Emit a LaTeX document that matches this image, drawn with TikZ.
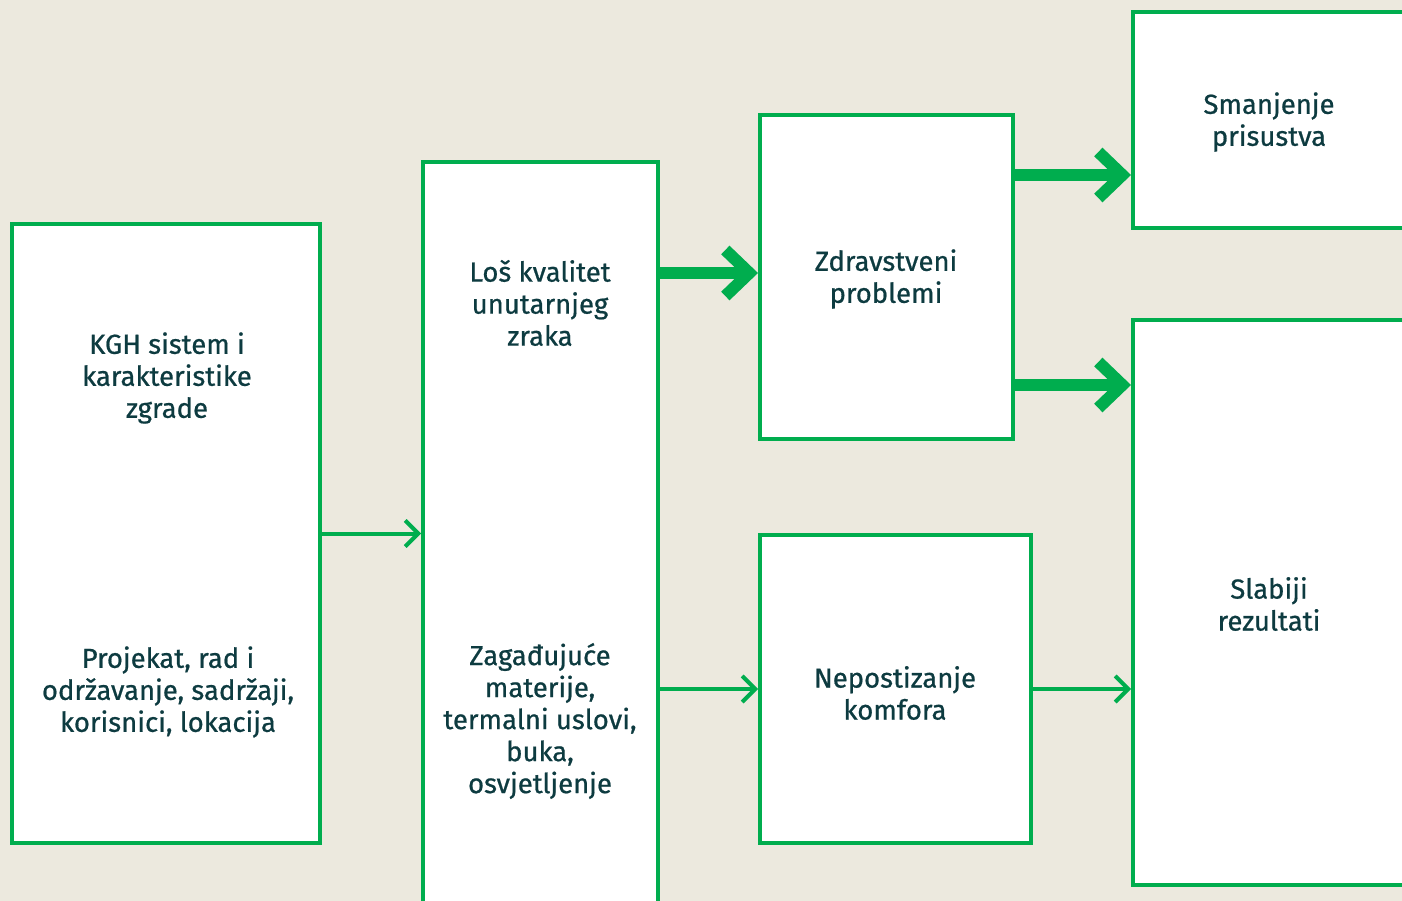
\documentclass[tikz,border=0pt]{standalone}
\usepackage{fontspec}
\setmainfont{Fira Sans}[FakeBold=0.7]
\usepackage{xcolor}
\usepackage{tikz}
\usetikzlibrary{arrows.meta}

\definecolor{zelena}{HTML}{00AD4E}
\definecolor{pozadina}{HTML}{ECE9DE}
\definecolor{tekst}{HTML}{0D3B40}

\begin{document}
\begin{tikzpicture}[x=1pt,y=-1pt,
        box/.style={draw=zelena, fill=white, line width=4pt, inner sep=0pt},
        label/.style={text=tekst, align=center, font=\fontsize{27.5}{32}\selectfont},
        thin/.style={draw=zelena, line width=4pt, -{Straight Barb[length=13pt,width=26pt]}},
        thick/.style={draw=zelena, line width=12pt, -{Straight Barb[length=24pt,width=46pt]}}]
        \useasboundingbox (0,0) rectangle (1402,901);
        \fill[pozadina] (0,0) rectangle (1402,901);

        % Boxes
        \node[box, minimum width=308pt, minimum height=619pt] (a) at (166,533.5) {};
        \node[box, minimum width=235pt, minimum height=788pt] (b) at (540.5,556) {};
        \node[box, minimum width=253pt, minimum height=324pt] (c) at (886.5,277) {};
        \node[box, minimum width=271pt, minimum height=308pt] (d) at (895.5,689) {};
        \node[box, minimum width=317pt, minimum height=216pt] (e) at (1291.5,120) {};
        \node[box, minimum width=317pt, minimum height=565pt] (f) at (1291.5,602.5) {};

        % Texts
        \node[label] (a1) at (167,378) {KGH sistem i\\karakteristike\\zgrade};
        \node[label] (a2) at (168,692) {Projekat, rad i\\održavanje, sadržaji,\\korisnici, lokacija};
        \node[label] (b1) at (540,303) {Loš kvalitet\\unutarnjeg\\zraka};
        \node[label] (b2) at (540,721) {Zagađujuće\\materije,\\termalni uslovi,\\buka,\\osvjetljenje};
        \node[label] (c1) at (886,279) {Zdravstveni\\problemi};
        \node[label] (d1) at (895,693) {Nepostizanje\\komfora};
        \node[label] (e1) at (1269,122) {Smanjenje\\prisustva};
        \node[label] (f1) at (1269,604) {Slabiji\\rezultati};

        % Arrows
        \draw[thin] (a.east) -- (a.east -| b.west);
        \draw[thin] (d.west -| b.east) -- (d.west);
        \draw[thin] (d.east) -- (d.east -| f.west);
        \draw[thick] (c.west -| b.east) ++(0,-4) -- ([yshift=4pt]c.west);
        \draw[thick] (c.east |- 0,175) -- (e.west |- 0,175);
        \draw[thick] (c.east |- 0,385) -- (f.west |- 0,385);
\end{tikzpicture}
\end{document}
